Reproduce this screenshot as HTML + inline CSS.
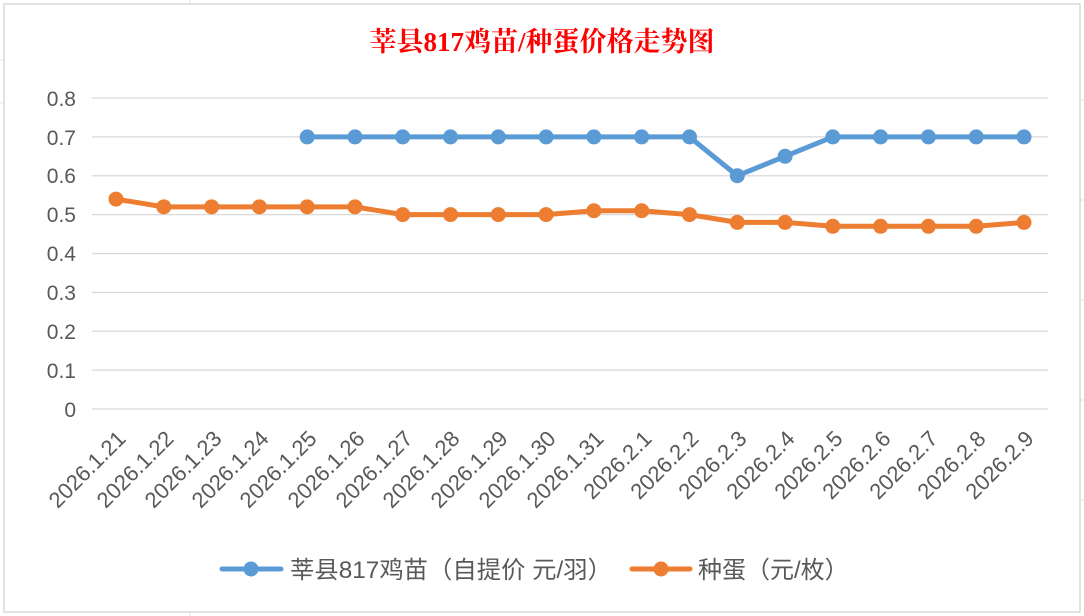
<!DOCTYPE html>
<html><head><meta charset="utf-8"><style>
body{margin:0;background:#fff;}
svg{display:block;font-family:"Liberation Sans","Noto Sans CJK SC",sans-serif;}
</style></head><body>
<svg width="1084" height="616" viewBox="0 0 1084 616" xmlns="http://www.w3.org/2000/svg">
<rect width="1084" height="616" fill="#fff"/>
<g stroke="#e3e3e3" stroke-width="1">
<line x1="0" y1="60" x2="4" y2="60"/><line x1="0" y1="103" x2="4" y2="103"/><line x1="190" y1="0" x2="190" y2="4"/><line x1="190" y1="612" x2="190" y2="616"/>
<line x1="1080" y1="100" x2="1084" y2="100"/><line x1="1080" y1="200" x2="1084" y2="200"/><line x1="1080" y1="300" x2="1084" y2="300"/><line x1="1080" y1="400" x2="1084" y2="400"/><line x1="1080" y1="500" x2="1084" y2="500"/>
</g>
<rect x="4" y="4" width="1076" height="608" fill="#fff" stroke="#d9d9d9" stroke-width="1.5"/>
<text x="542" y="51" text-anchor="middle" fill="#ff0000" font-size="27" font-weight="bold" font-family="Liberation Serif,Noto Serif CJK SC,serif">莘县817鸡苗/种蛋价格走势图</text>
<g stroke="#d9d9d9" stroke-width="1.3">
<line x1="92" y1="98" x2="1048" y2="98"/><line x1="92" y1="136.9" x2="1048" y2="136.9"/><line x1="92" y1="175.75" x2="1048" y2="175.75"/><line x1="92" y1="214.6" x2="1048" y2="214.6"/><line x1="92" y1="253.5" x2="1048" y2="253.5"/><line x1="92" y1="292.4" x2="1048" y2="292.4"/><line x1="92" y1="331.25" x2="1048" y2="331.25"/><line x1="92" y1="370.1" x2="1048" y2="370.1"/><line x1="92" y1="409" x2="1048" y2="409"/>
</g>
<g fill="#595959" font-size="21" text-anchor="end">
<text x="76" y="106">0.8</text><text x="76" y="145">0.7</text><text x="76" y="183">0.6</text><text x="76" y="222">0.5</text><text x="76" y="261">0.4</text><text x="76" y="300">0.3</text><text x="76" y="339">0.2</text><text x="76" y="378">0.1</text><text x="76" y="417">0</text>
</g>
<g fill="#595959" font-size="22" text-anchor="end">
<text transform="translate(127,440) rotate(-45)">2026.1.21</text>
<text transform="translate(175,440) rotate(-45)">2026.1.22</text>
<text transform="translate(223,440) rotate(-45)">2026.1.23</text>
<text transform="translate(270,440) rotate(-45)">2026.1.24</text>
<text transform="translate(318,440) rotate(-45)">2026.1.25</text>
<text transform="translate(366,440) rotate(-45)">2026.1.26</text>
<text transform="translate(414,440) rotate(-45)">2026.1.27</text>
<text transform="translate(461,440) rotate(-45)">2026.1.28</text>
<text transform="translate(509,440) rotate(-45)">2026.1.29</text>
<text transform="translate(557,440) rotate(-45)">2026.1.30</text>
<text transform="translate(605,440) rotate(-45)">2026.1.31</text>
<text transform="translate(653,440) rotate(-45)">2026.2.1</text>
<text transform="translate(700,440) rotate(-45)">2026.2.2</text>
<text transform="translate(748,440) rotate(-45)">2026.2.3</text>
<text transform="translate(796,440) rotate(-45)">2026.2.4</text>
<text transform="translate(844,440) rotate(-45)">2026.2.5</text>
<text transform="translate(892,440) rotate(-45)">2026.2.6</text>
<text transform="translate(939,440) rotate(-45)">2026.2.7</text>
<text transform="translate(987,440) rotate(-45)">2026.2.8</text>
<text transform="translate(1035,440) rotate(-45)">2026.2.9</text>
</g>
<polyline fill="none" stroke="#5b9bd5" stroke-width="5" stroke-linejoin="round" points="307.2,136.9 355,136.9 402.7,136.9 450.5,136.9 498.3,136.9 546.1,136.9 593.9,136.9 641.7,136.9 689.5,136.9 737.3,175.75 785.1,156.3 832.8,136.9 880.6,136.9 928.4,136.9 976.2,136.9 1024,136.9"/>
<g fill="#5b9bd5">
<circle cx="307.2" cy="136.9" r="7.5"/><circle cx="355" cy="136.9" r="7.5"/><circle cx="402.7" cy="136.9" r="7.5"/><circle cx="450.5" cy="136.9" r="7.5"/><circle cx="498.3" cy="136.9" r="7.5"/><circle cx="546.1" cy="136.9" r="7.5"/><circle cx="593.9" cy="136.9" r="7.5"/><circle cx="641.7" cy="136.9" r="7.5"/><circle cx="689.5" cy="136.9" r="7.5"/><circle cx="737.3" cy="175.75" r="7.5"/><circle cx="785.1" cy="156.3" r="7.5"/><circle cx="832.8" cy="136.9" r="7.5"/><circle cx="880.6" cy="136.9" r="7.5"/><circle cx="928.4" cy="136.9" r="7.5"/><circle cx="976.2" cy="136.9" r="7.5"/><circle cx="1024" cy="136.9" r="7.5"/>
</g>
<polyline fill="none" stroke="#ed7d31" stroke-width="5" stroke-linejoin="round" points="116,199.1 163.8,206.85 211.6,206.85 259.4,206.85 307.2,206.85 355,206.85 402.7,214.6 450.5,214.6 498.3,214.6 546.1,214.6 593.9,210.7 641.7,210.7 689.5,214.6 737.3,222.4 785.1,222.4 832.8,226.3 880.6,226.3 928.4,226.3 976.2,226.3 1024,222.4"/>
<g fill="#ed7d31">
<circle cx="116" cy="199.1" r="7.5"/><circle cx="163.8" cy="206.85" r="7.5"/><circle cx="211.6" cy="206.85" r="7.5"/><circle cx="259.4" cy="206.85" r="7.5"/><circle cx="307.2" cy="206.85" r="7.5"/><circle cx="355" cy="206.85" r="7.5"/><circle cx="402.7" cy="214.6" r="7.5"/><circle cx="450.5" cy="214.6" r="7.5"/><circle cx="498.3" cy="214.6" r="7.5"/><circle cx="546.1" cy="214.6" r="7.5"/><circle cx="593.9" cy="210.7" r="7.5"/><circle cx="641.7" cy="210.7" r="7.5"/><circle cx="689.5" cy="214.6" r="7.5"/><circle cx="737.3" cy="222.4" r="7.5"/><circle cx="785.1" cy="222.4" r="7.5"/><circle cx="832.8" cy="226.3" r="7.5"/><circle cx="880.6" cy="226.3" r="7.5"/><circle cx="928.4" cy="226.3" r="7.5"/><circle cx="976.2" cy="226.3" r="7.5"/><circle cx="1024" cy="222.4" r="7.5"/>
</g>
<line x1="222" y1="569" x2="281" y2="569" stroke="#5b9bd5" stroke-width="5" stroke-linecap="round"/>
<circle cx="251" cy="569" r="7.5" fill="#5b9bd5"/>
<text x="290" y="578" fill="#595959" font-size="24" textLength="322" lengthAdjust="spacingAndGlyphs">莘县817鸡苗（自提价 元/羽）</text>
<line x1="632" y1="569" x2="690" y2="569" stroke="#ed7d31" stroke-width="5" stroke-linecap="round"/>
<circle cx="661" cy="569" r="7.5" fill="#ed7d31"/>
<text x="698" y="578" fill="#595959" font-size="24">种蛋（元/枚）</text>
</svg>
</body></html>
